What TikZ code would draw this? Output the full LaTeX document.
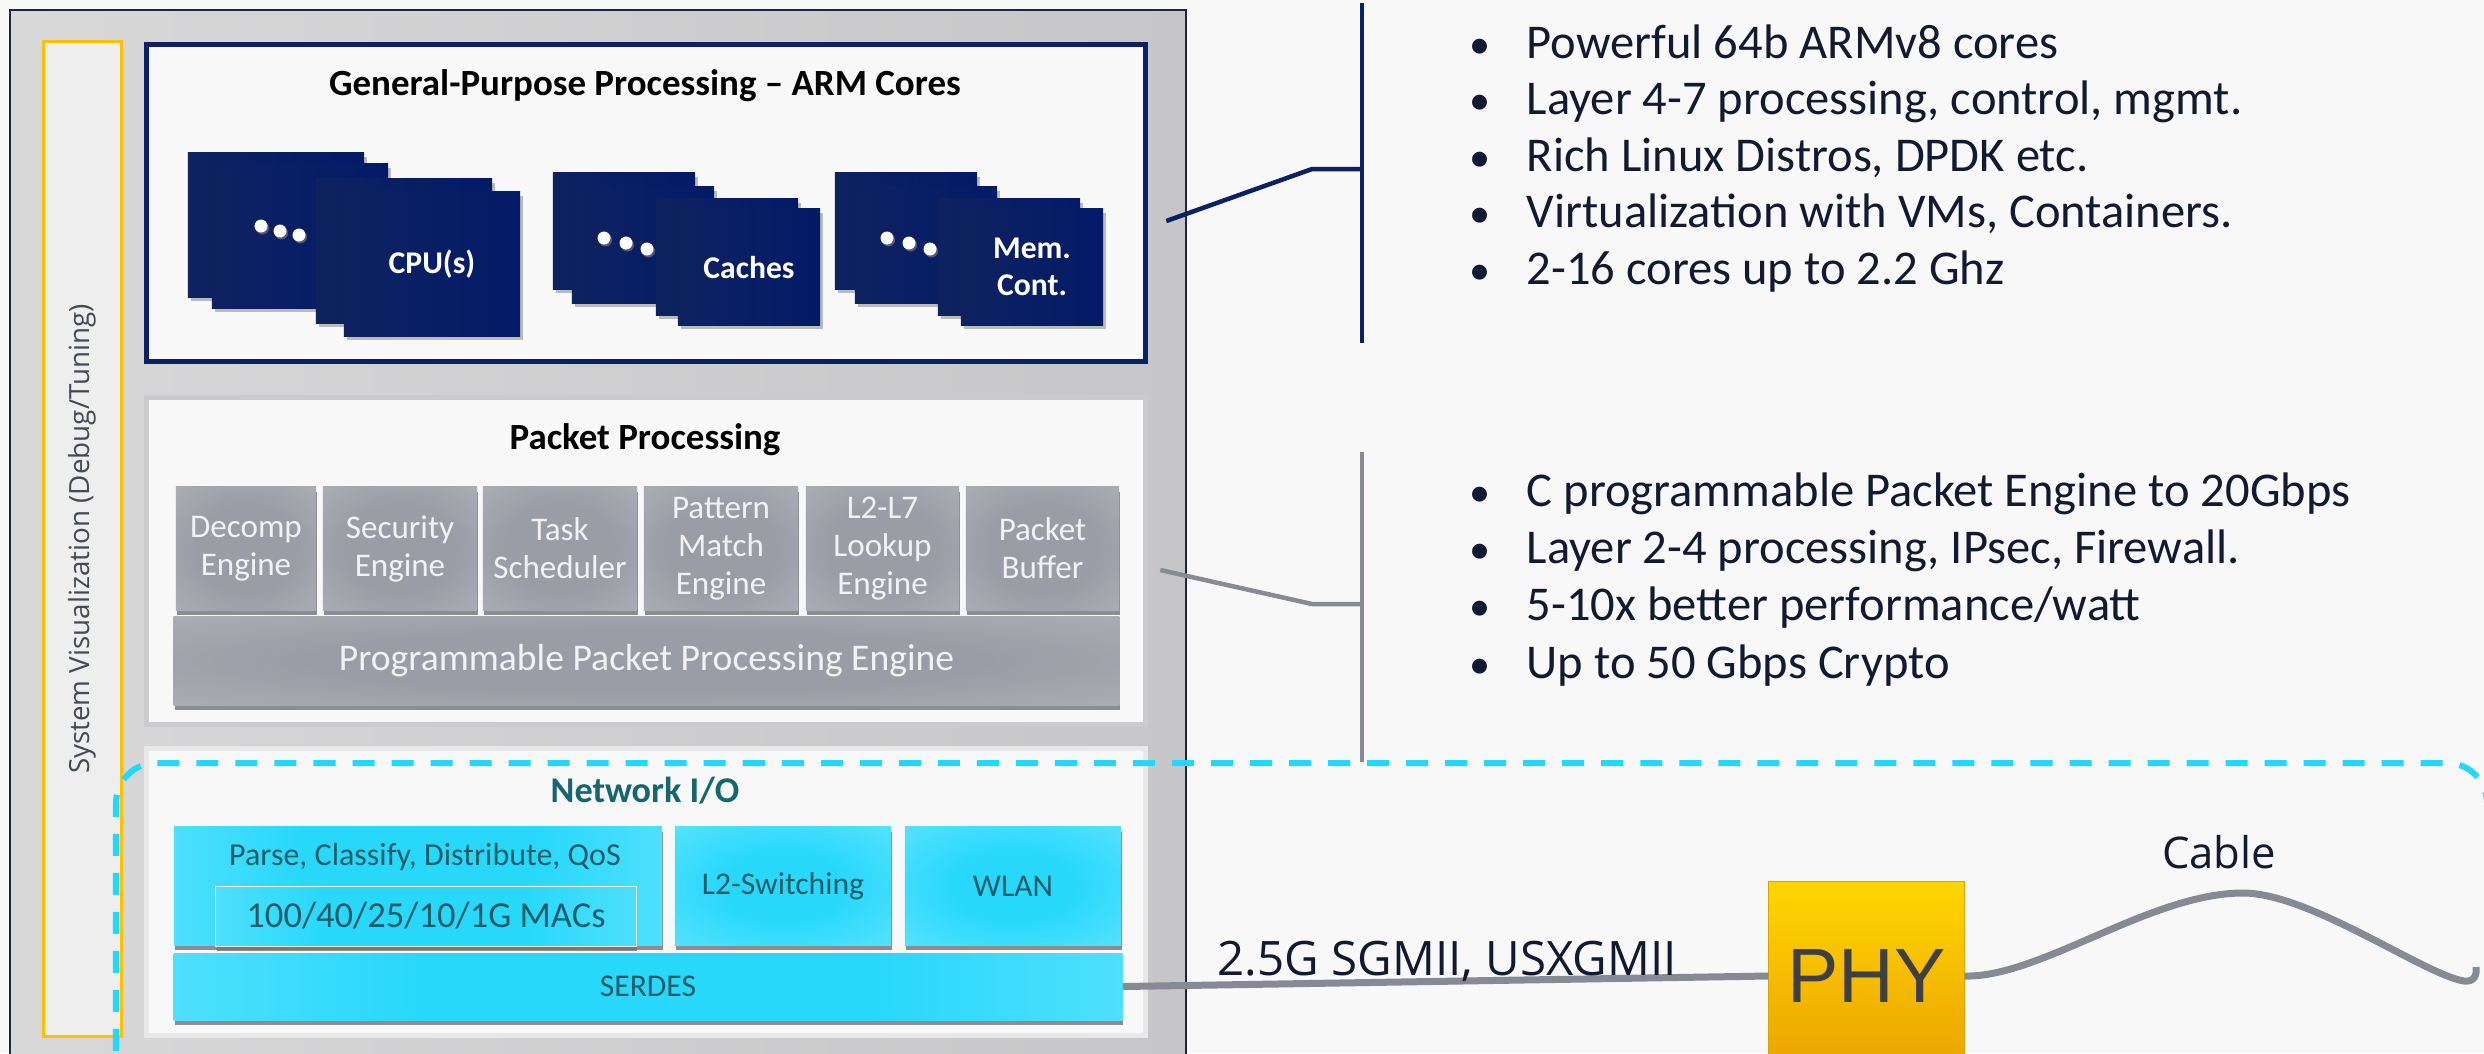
\documentclass[tikz,border=0pt]{standalone}
\usepackage{fontspec}
\setmainfont{Carlito}
\newfontfamily\segoe{Open Sans}
\newfontfamily\phyfont{Liberation Sans}
\usetikzlibrary{shadows}

\definecolor{bgwhite}{HTML}{F8F8F8}
\definecolor{socgrayA}{HTML}{D8D8D9}
\definecolor{socgrayB}{HTML}{C6C6C8}
\definecolor{socedge}{HTML}{1E2540}
\definecolor{vizyellow}{HTML}{FFC000}
\definecolor{vizfill}{HTML}{EEEEEE}
\definecolor{vizgray}{HTML}{454A52}
\definecolor{armnavy}{HTML}{0B2163}
\definecolor{panelwhite}{HTML}{F8F8F8}
\definecolor{ppframe}{HTML}{CBCBCE}
\definecolor{nioframe}{HTML}{E8E8E8}
\definecolor{cardA}{HTML}{0F2260}
\definecolor{cardB}{HTML}{021B68}
\definecolor{engdark}{HTML}{9A9DA5}
\definecolor{englight}{HTML}{B7BAC1}
\definecolor{engtext}{HTML}{F2F2F4}
\definecolor{cydeep}{HTML}{28D8FB}
\definecolor{cylight}{HTML}{6EE6FE}
\definecolor{cypale}{HTML}{E0E9EB}
\definecolor{cytext}{HTML}{1D5C68}
\definecolor{niotitle}{HTML}{17666F}
\definecolor{dashcyan}{HTML}{22D8FF}
\definecolor{wiregray}{HTML}{868A94}
\definecolor{textnavy}{HTML}{111A33}
\definecolor{phytop}{HTML}{FFD500}
\definecolor{phybot}{HTML}{EBA300}
\definecolor{phyedge}{HTML}{D9A400}
\definecolor{phytext}{HTML}{3F3F3F}

\pgfdeclareradialshading{engshade}{\pgfpoint{0bp}{0bp}}{color(0bp)=(engdark); color(18bp)=(engdark); color(50bp)=(englight)}
\pgfdeclareradialshading{cyanspot}{\pgfpoint{0bp}{0bp}}{color(0bp)=(cydeep); color(14bp)=(cydeep); color(34bp)=(cydeep!40!cylight); color(50bp)=(cylight)}
\pgfdeclarehorizontalshading{cyanbar}{100bp}{color(0bp)=(cypale); color(14bp)=(cylight); color(38bp)=(cydeep); color(62bp)=(cydeep); color(86bp)=(cylight); color(100bp)=(cypale!60!cylight)}

\newcommand{\pt}{\makebox[0.57cm][l]{\fontsize{12}{12}\selectfont\textbullet}}

\begin{document}
\begin{tikzpicture}[x=0.01cm, y=-0.01cm, every node/.style={inner sep=0pt},
    card/.style={left color=cardA, right color=cardB, minimum width=1.42cm, minimum height=1.16cm,
        drop shadow={shadow xshift=0.03cm, shadow yshift=-0.04cm, opacity=0.5}},
    bigcard/.style={card, minimum width=1.76cm, minimum height=1.44cm},
    cardlbl/.style={text=white, align=center, font=\bfseries\fontsize{9}{10.5}\selectfont},
    dot/.style={circle, fill=white, minimum size=0.13cm,
        drop shadow={shadow xshift=0.015cm, shadow yshift=-0.02cm, opacity=0.6}},
    panel/.style={fill=panelwhite, line width=0.05cm, minimum width=9.99cm},
    paneltitle/.style={font=\bfseries\fontsize{10.5}{12}\selectfont},
    engine/.style={shading=engshade, minimum height=1.23cm, text=engtext, align=center,
        font=\fontsize{9.4}{10.8}\selectfont,
        drop shadow={shadow xshift=0.01cm, shadow yshift=-0.05cm, fill=black!55, opacity=0.8}},
    cyanbox/.style={shading=cyanspot, minimum height=1.18cm, text=cytext, align=center,
        font=\fontsize{9}{10.8}\selectfont,
        drop shadow={shadow xshift=0.01cm, shadow yshift=-0.05cm, fill=black!55, opacity=0.8}},
    cyanwide/.style={cyanbox, shading=cyanbar},
    pointtext/.style={anchor=base west, text=textnavy, font=\fontsize{13.8}{16}\selectfont},
    armline/.style={draw=armnavy, line width=0.045cm},
    ppline/.style={draw=wiregray, line width=0.045cm},
    wire/.style={draw=wiregray, line width=0.07cm},
    ioregion/.style={draw=dashcyan, line width=0.06cm, dash pattern=on 0.22cm off 0.17cm, rounded corners=0.4cm}]
    \useasboundingbox (0,0) rectangle (2484,1053);
    \fill[bgwhite] (0,0) rectangle (2484,1053);

    \node[anchor=north west, draw=socedge, line width=0.02cm, left color=socgrayA, right color=socgrayB,
        minimum width=11.75cm, minimum height=10.9cm] (soc) at (9,9) {};
    \node[draw=vizyellow, line width=0.03cm, fill=vizfill, rotate=90, minimum width=9.94cm, minimum height=0.77cm,
        text=vizgray, font=\segoe\fontsize{7.9}{9}\selectfont] (sysvis) at (82.5,539) {System Visualization (Debug/Tuning)};

    \node[panel, draw=armnavy, minimum height=3.17cm] (gpp) at (646,203) {};
    \node[paneltitle] (gpptitle) at (645,86) {General-Purpose Processing – ARM Cores};
    \node[bigcard] (cpu1) at (276,225) {};
    \node[bigcard] (cpu2) at (300,236) {};
    \node[bigcard] (cpu3) at (404,251) {};
    \node[bigcard, cardlbl] (cpu4) at (432,264) {CPU(s)};
    \node[dot] (cpudot1) at (261,226) {};
    \node[dot] (cpudot2) at (280,231) {};
    \node[dot] (cpudot3) at (299,235) {};
    \node[card] (cache1) at (624,231) {};
    \node[card] (cache2) at (643,245) {};
    \node[card] (cache3) at (727,257) {};
    \node[card, cardlbl] (cache4) at (749,267) {Caches};
    \node[dot] (cachedot1) at (604,238) {};
    \node[dot] (cachedot2) at (626,243) {};
    \node[dot] (cachedot3) at (647,249) {};
    \node[card] (mem1) at (906,231) {};
    \node[card] (mem2) at (926,245) {};
    \node[card] (mem3) at (1009,257) {};
    \node[card, cardlbl] (mem4) at (1032,267) {Mem.\\Cont.};
    \node[dot] (memdot1) at (887,238) {};
    \node[dot] (memdot2) at (909,243) {};
    \node[dot] (memdot3) at (930,249) {};

    \node[panel, draw=ppframe, minimum height=3.27cm] (pp) at (646,561) {};
    \node[paneltitle] (pptitle) at (645,440) {Packet Processing};
    \node[engine, minimum width=1.40cm] (decomp) at (246,548.5) {Decomp\\Engine};
    \node[engine, minimum width=1.54cm] (security) at (400,548.5) {Security\\Engine};
    \node[engine, minimum width=1.54cm] (task) at (560,548.5) {Task\\Scheduler};
    \node[engine, minimum width=1.54cm] (pattern) at (721,548.5) {Pattern\\Match\\Engine};
    \node[engine, minimum width=1.53cm] (lookup) at (882.5,548.5) {L2-L7\\Lookup\\Engine};
    \node[engine, minimum width=1.53cm] (buffer) at (1042.5,548.5) {Packet\\Buffer};
    \node[engine, minimum width=9.45cm, minimum height=0.88cm, font=\fontsize{10.7}{12}\selectfont] (ppe) at (646.5,661) {Programmable Packet Processing Engine};

    \node[panel, draw=nioframe, minimum height=2.87cm] (nio) at (646,892) {};
    \node[paneltitle, text=niotitle, font=\bfseries\fontsize{10.3}{11}\selectfont] (niotitle) at (645,791) {Network I/O};
    \node[cyanwide, minimum width=4.88cm] (parse) at (418,886) {};
    \node[text=cytext, font=\fontsize{9.1}{11}\selectfont] (parselbl) at (425,857) {Parse, Classify, Distribute, QoS};
    \node[cyanwide, minimum width=4.2cm, minimum height=0.6cm, draw=white!85!gray, line width=0.01cm,
        font=\fontsize{10.4}{12}\selectfont] (macs) at (426,916) {100/40/25/10/1G MACs};
    \node[cyanbox, minimum width=2.16cm] (l2sw) at (783,886) {L2-Switching};
    \node[cyanbox, minimum width=2.16cm] (wlan) at (1013,886) {WLAN};
    \node[cyanwide, minimum width=9.48cm, minimum height=0.67cm] (serdes) at (648,986.5) {SERDES};

    \draw[ioregion] (116,1090) -- (116,763) -- (2487,763) -- (2487,1090);

    \coordinate (armtop) at (1362,3);
    \coordinate (armbot) at (1362,343);
    \coordinate (armmid) at (1362,169);
    \coordinate (armtap) at ([shift={(18,18)}]gpp.east);
    \draw[armline] (armtop) -- (armbot);
    \draw[armline] (armtap) -- (1312,169) -- (armmid);
    \coordinate (pptop) at (1362,452);
    \coordinate (ppbot) at (1362,762);
    \coordinate (ppmid) at (1362,604);
    \coordinate (pptap) at ([shift={(12,9)}]pp.east);
    \draw[ppline] (pptop) -- (ppbot);
    \draw[ppline] (pptap) -- (1312,604) -- (ppmid);

    \node[pointtext] (arm1) at (1469,58) {\pt Powerful 64b ARMv8 cores};
    \node[pointtext] (arm2) at (1469,114.6) {\pt Layer 4-7 processing, control, mgmt.};
    \node[pointtext] (arm3) at (1469,171.2) {\pt Rich Linux Distros, DPDK etc.};
    \node[pointtext] (arm4) at (1469,227.8) {\pt Virtualization with VMs, Containers.};
    \node[pointtext] (arm5) at (1469,284.4) {\pt 2-16 cores up to 2.2 Ghz};
    \node[pointtext] (pkt1) at (1469,506) {\pt C programmable Packet Engine to 20Gbps};
    \node[pointtext] (pkt2) at (1469,563) {\pt Layer 2-4 processing, IPsec, Firewall.};
    \node[pointtext] (pkt3) at (1469,620) {\pt 5-10x better performance/watt};
    \node[pointtext] (pkt4) at (1469,678) {\pt Up to 50 Gbps Crypto};

    \node[draw=phyedge, line width=0.01cm, top color=phytop, bottom color=phybot, minimum width=1.95cm, minimum height=1.88cm,
        text=phytext, font=\phyfont\fontsize{21.9}{24}\selectfont] (phy) at (1866.5,976) {PHY};
    \draw[wire] (serdes.east) -- (phy.west);
    \node[anchor=base west, text=textnavy, font=\segoe\fontsize{13.5}{15}\selectfont] (sgmii) at (1217,975) {2.5G SGMII, USXGMII};
    \coordinate (cableend) at (2476,967);
    \draw[wire] (phy.east) .. controls (2040,978) and (2150,893) .. (2243,893)
        .. controls (2310,893) and (2425,975) .. (2464,981) .. controls (2474,982) and (2477,976) .. (cableend);
    \node[anchor=base, text=textnavy, font=\segoe\fontsize{12.4}{15}\selectfont] (cable) at (2219,868) {Cable};
\end{tikzpicture}
\end{document}
